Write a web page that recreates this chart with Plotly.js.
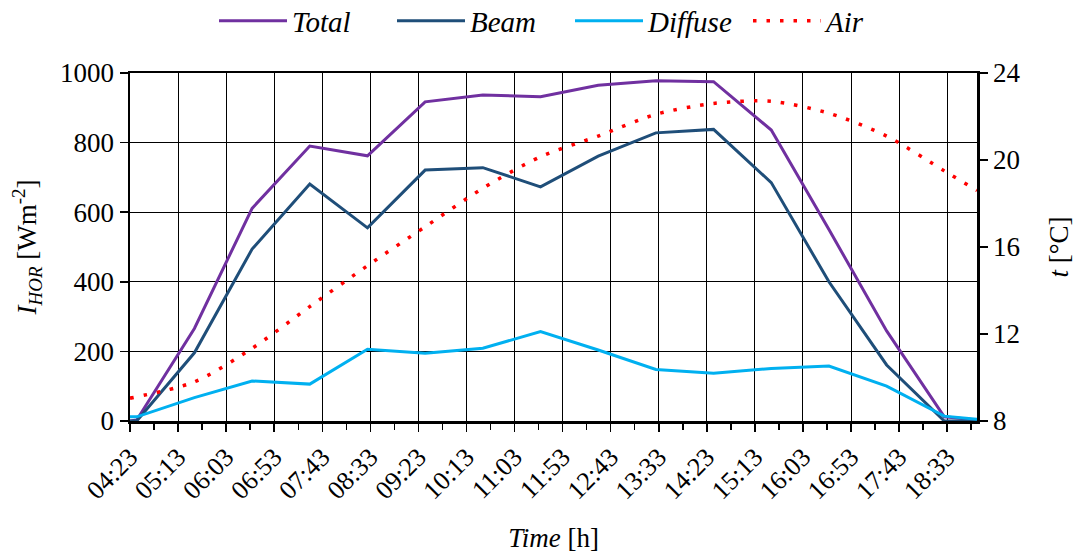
<!DOCTYPE html>
<html>
<head>
<meta charset="utf-8">
<script src="https://cdn.plot.ly/plotly-3.0.1.min.js"></script>
<style>html,body{margin:0;padding:0;background:#fff}#chart{width:1076px;height:553px}</style>
</head>
<body>
<div id="chart"></div>
<script>
// Data
const day = '2021-06-21 ';
const times   = ['04:23','04:30','05:30','06:30','07:30','08:30','09:30','10:30','11:30','12:30','13:30','14:30','15:30','16:30','17:30','18:30','19:04'];
const total   = [0, 3, 266, 611, 790, 762, 917, 937, 932, 965, 978, 975, 836, 550, 259, 12, 3];
const beam    = [0, 0, 196, 494, 681, 555, 721, 728, 673, 761, 828, 838, 685, 400, 161, 0, 0];
const diffuse = [12, 12, 67, 115, 106, 206, 195, 209, 257, 204, 148, 137, 151, 158, 100, 14, 5];
const airTimes = ['04:23','05:30','06:30','07:30','08:30','09:30','10:30','11:30','12:30','13:30','14:30','15:30','16:30','17:30','18:30','19:04'];
const air      = [9.05, 9.8, 11.34, 13.26, 15.14, 16.93, 18.7, 20.15, 21.1, 22.1, 22.6, 22.7, 22.15, 21.1, 19.5, 18.6];
const seriesNames = ['Total','Beam','Diffuse','Air'];
const colors = ['#7030A0','#1F4E79','#00B0F0','#FF0000'];

const X = times.map(t => day + t);
const XA = airTimes.map(t => day + t);
const FONT = "'Liberation Serif', 'Times New Roman', serif";

const traces = [
  {x: X, y: total, name: '<i>' + seriesNames[0] + '</i>', mode: 'lines', line: {color: colors[0], width: 3}},
  {x: X, y: beam, name: '<i>' + seriesNames[1] + '</i>', mode: 'lines', line: {color: colors[1], width: 3}},
  {x: X, y: diffuse, name: '<i>' + seriesNames[2] + '</i>', mode: 'lines', line: {color: colors[2], width: 3}},
  {x: XA, y: air, name: '<i>' + seriesNames[3] + '</i>', mode: 'lines', yaxis: 'y2',
   line: {color: colors[3], width: 3.5, dash: '3.5px,10px', shape: 'spline', smoothing: 0.8}}
];

const layout = {
  width: 1076, height: 553,
  margin: {l: 130, r: 99, t: 73, b: 132},
  paper_bgcolor: '#fff', plot_bgcolor: '#fff',
  font: {family: FONT, size: 25, color: '#000'},
  showlegend: true,
  legend: {orientation: 'h', x: 214 / 1076, xref: 'container', xanchor: 'left',
           y: 1 - 21 / 553, yref: 'container', yanchor: 'middle',
           font: {family: FONT, size: 29, color: '#000'}, itemwidth: 68, tracegroupgap: 0,
           entrywidth: 95, entrywidthmode: 'pixels'},
  xaxis: {
    type: 'date',
    range: [day + '04:23', day + '19:04'],
    tick0: day + '04:23', dtick: 50 * 60 * 1000, tickformat: '%H:%M',
    tickangle: -45, ticks: 'outside', ticklen: 8, tickwidth: 1.5, tickcolor: '#000',
    minor: {dtick: 25 * 60 * 1000, tick0: day + '04:23', ticks: 'outside', ticklen: 6, tickwidth: 1.5, tickcolor: '#000', showgrid: false},
    showgrid: true, gridcolor: '#000', gridwidth: 1,
    showline: true, linecolor: '#000', linewidth: 2.5, mirror: true,
    zeroline: false,
    tickfont: {family: FONT, size: 26},
    title: {text: '<i>Time</i> [h]', font: {family: FONT, size: 27}, standoff: 26},
    automargin: false
  },
  yaxis: {
    range: [0, 1000], dtick: 200, tick0: 0,
    ticks: 'outside', ticklen: 8, tickwidth: 1.5, tickcolor: '#000',
    showgrid: true, gridcolor: '#000', gridwidth: 1,
    showline: true, linecolor: '#000', linewidth: 2.5,
    zeroline: false,
    tickfont: {family: FONT, size: 27},
    title: {text: '<i>I<sub>HOR</sub></i> [Wm<sup>-2</sup>]', font: {family: FONT, size: 27}, standoff: 16},
    automargin: false
  },
  yaxis2: {
    overlaying: 'y', side: 'right',
    range: [8, 24], dtick: 4, tick0: 8,
    ticks: 'outside', ticklen: 8, tickwidth: 1.5, tickcolor: '#000',
    showgrid: false, zeroline: false,
    showline: true, linecolor: '#000', linewidth: 2.5,
    tickfont: {family: FONT, size: 27},
    title: {text: '<i>t</i> [°C]', font: {family: FONT, size: 27}, standoff: 30},
    automargin: false
  }
};

Plotly.newPlot('chart', traces, layout, {displayModeBar: false, staticPlot: true});
</script>
</body>
</html>
